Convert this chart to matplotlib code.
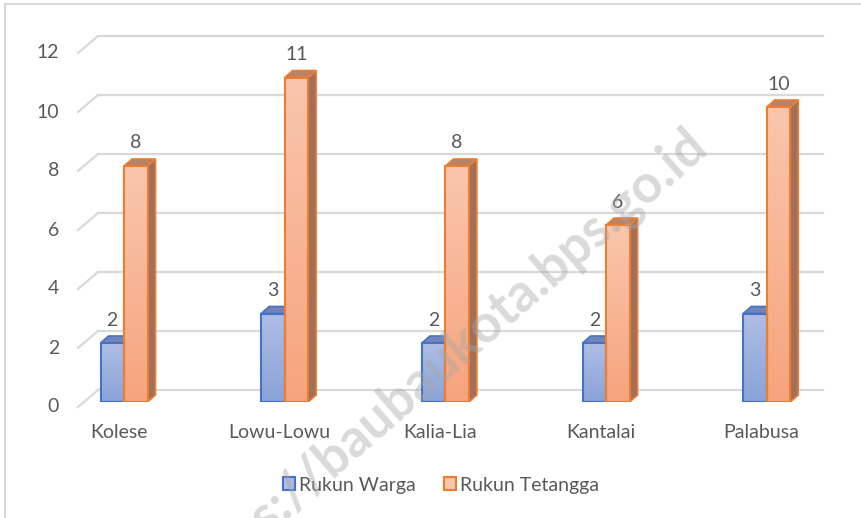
import numpy as np
import matplotlib
matplotlib.use('Agg')
from matplotlib import pyplot as plt
from matplotlib import transforms
from matplotlib.patches import Polygon, Patch
from matplotlib.lines import Line2D

plt.rcParams['font.family'] = ['Lato', 'DejaVu Sans']

# data
kelurahan = ['Kolese', 'Lowu-Lowu', 'Kalia-Lia', 'Kantalai', 'Palabusa']
rukun_warga = [2, 3, 2, 2, 3]
rukun_tetangga = [8, 11, 8, 6, 10]
series_names = ['Rukun Warga', 'Rukun Tetangga']
y_ticks = [0, 2, 4, 6, 8, 10, 12]

W, H = 861, 518
fig = plt.figure(figsize=(W / 100, H / 100), dpi=100)

# front plane of the 3D plot, in pixels
left_px, right_px, base_px, top_px = 78, 823, 402, 48
ax = fig.add_axes([left_px / W, (H - base_px) / H,
                   (right_px - left_px) / W, (base_px - top_px) / H])
step_px = 160.7
first_c = 124
ax.set_xlim((left_px - first_c) / step_px, (right_px - first_c) / step_px)
ax.set_ylim(0, 12)
ax.axis('off')

px_x = step_px                    # pixels per x unit
px_y = (base_px - top_px) / 12.0  # pixels per y unit

def off(dx, dy):
    # offset in pixels (dy positive = up)
    return transforms.ScaledTranslation(dx / 100, dy / 100, fig.dpi_scale_trans)

blend = transforms.blended_transform_factory(ax.transAxes, ax.transData)
grid_c = '#d9d9d9'
txt_c = '#595959'
fs = 14
back_frac = 20 / (right_px - left_px)

# grid on back wall + diagonal on side wall
for v in y_ticks:
    ax.plot([back_frac, 1.0], [v, v], color=grid_c, lw=1.6,
            transform=blend + off(0, 12), clip_on=False, zorder=0)
    p0 = (blend + off(0, -5)).transform((0, v))
    p1 = (blend + off(0, 12)).transform((back_frac, v))
    ax.add_line(Line2D([p0[0], p1[0]], [p0[1], p1[1]], color=grid_c, lw=1.6,
                       transform=None, clip_on=False, zorder=0))
    ax.text(-19 / (right_px - left_px), v, str(v), transform=blend + off(0, -5),
            ha='right', va='center', fontsize=fs, color=txt_c)

w = 23.5 / px_x
dx = 8 / px_x
dy = 7 / px_y

blue_edge, orange_edge = '#4472c4', '#ed7d31'
blue_grad = ['#8aa3d8', '#aebde5']
orange_grad = ['#f6a47d', '#f9c6ad']
blue_top = '#7385b8'
orange_top = '#b98266'
orange_side = '#a0705a'

def grad_img(cols):
    c0 = np.array(matplotlib.colors.to_rgb(cols[0]))
    c1 = np.array(matplotlib.colors.to_rgb(cols[1]))
    t = np.linspace(0, 1, 64)[:, None]
    return (c0 + (c1 - c0) * t)[:, None, :]

def bar3d(x0, h, grad, edge, top, side=None):
    x1 = x0 + w
    if side is not None:
        ax.add_patch(Polygon([(x1, 0), (x1 + dx, dy), (x1 + dx, h + dy), (x1, h)],
                             closed=True, fc=side, ec=edge, lw=1.2, zorder=2,
                             joinstyle='miter'))
    ax.add_patch(Polygon([(x0, h), (x1, h), (x1 + dx, h + dy), (x0 + dx, h + dy)],
                         closed=True, fc=top, ec=edge, lw=1.2, zorder=2,
                         joinstyle='miter'))
    ax.imshow(grad_img(grad), extent=(x0, x1, 0, h), origin='lower',
              aspect='auto', zorder=3, interpolation='bilinear')
    ax.add_patch(Polygon([(x0, 0), (x1, 0), (x1, h), (x0, h)], closed=True,
                         fc='none', ec=edge, lw=1.5, zorder=4, joinstyle='miter'))

for i, name in enumerate(kelurahan):
    c = i
    bar3d(c - w, rukun_warga[i], blue_grad, blue_edge, blue_top)
    bar3d(c, rukun_tetangga[i], orange_grad, orange_edge, orange_top, side=orange_side)
    ax.text(c - w / 2, rukun_warga[i], str(rukun_warga[i]),
            transform=ax.transData + off(0, 23), ha='center', va='center',
            fontsize=fs, color=txt_c, zorder=6)
    ax.text(c + w / 2, rukun_tetangga[i], str(rukun_tetangga[i]),
            transform=ax.transData + off(0, 23), ha='center', va='center',
            fontsize=fs, color=txt_c, zorder=6)
    ax.text(c, 0, name, transform=ax.transData + off(-5.5, -31),
            ha='center', va='center', fontsize=fs, color=txt_c)

ax.set_xlim((left_px - first_c) / step_px, (right_px - first_c) / step_px)
ax.set_ylim(0, 12)

# legend
handles = [Patch(fc=blue_grad[1], ec=blue_edge, lw=1.5),
           Patch(fc=orange_grad[1], ec=orange_edge, lw=1.5)]
leg = fig.legend(handles, series_names, loc='center', ncol=2,
                 bbox_to_anchor=(441 / W, 1 - 485 / H), frameon=False,
                 fontsize=fs, handlelength=0.6, handleheight=0.6,
                 handletextpad=0.2, columnspacing=1.45)
for t in leg.get_texts():
    t.set_color(txt_c)

# watermark
fig.text(700 / W, 1 - 138 / H, 'https://baubaukota.bps.go.id', rotation=41,
         rotation_mode='anchor', ha='right', va='center', fontsize=38,
         fontweight='bold', color='#a6a6a6', alpha=0.42, zorder=10)

# chart border
fig.add_artist(Line2D([5 / W, 1], [1 - 4 / H, 1 - 4 / H], color=grid_c, lw=1.5))
fig.add_artist(Line2D([5 / W, 5 / W], [0, 1 - 4 / H], color=grid_c, lw=1.5))

fig.savefig('out.png', dpi=100)
